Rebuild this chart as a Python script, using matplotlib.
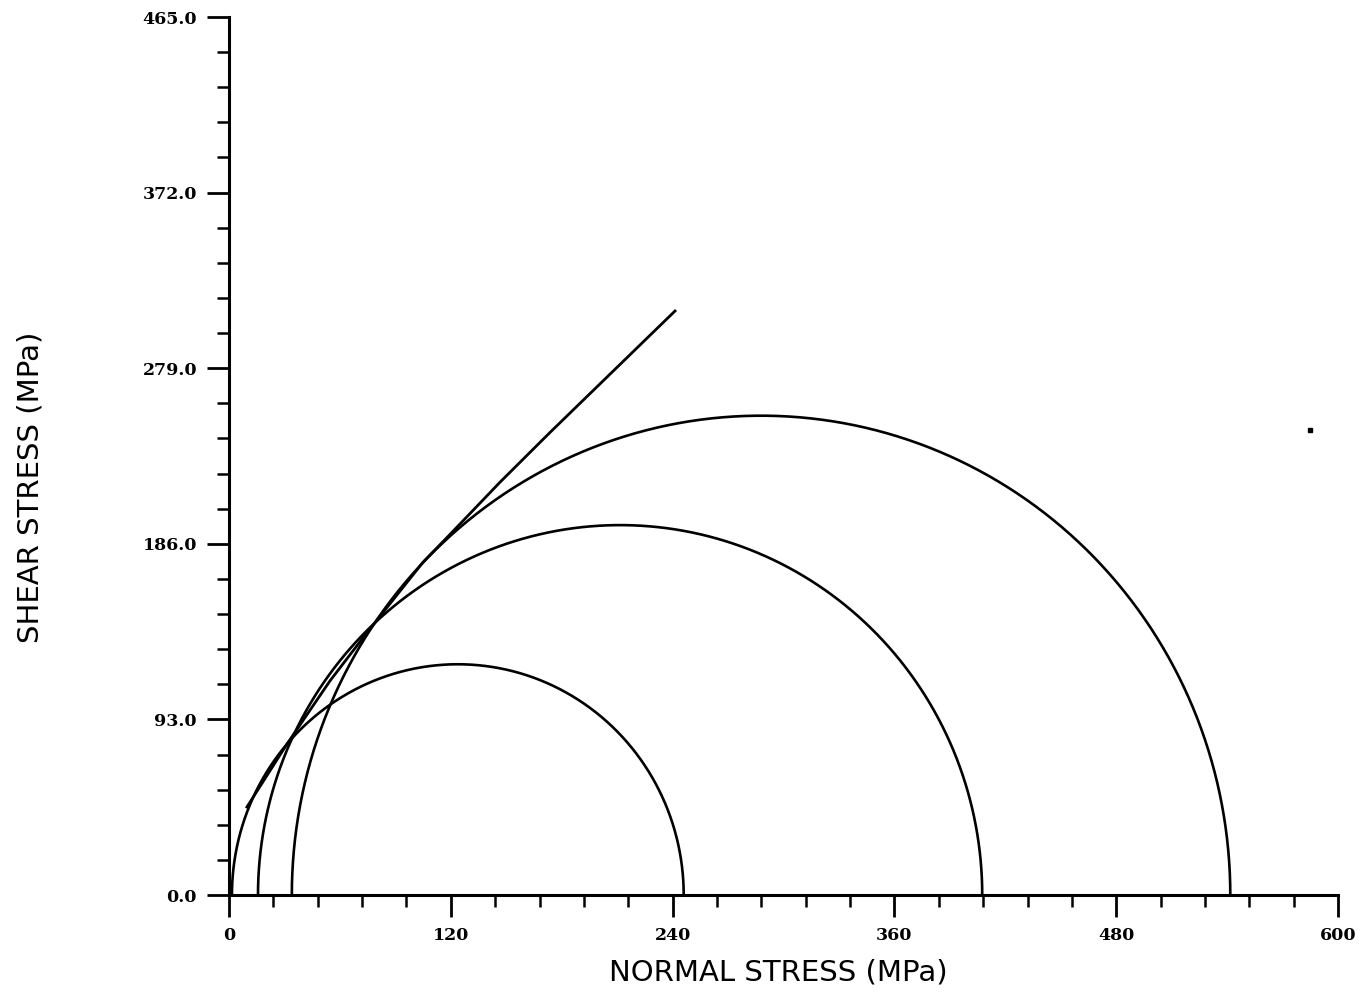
import numpy as np
import matplotlib
matplotlib.use("Agg")
import matplotlib.pyplot as plt
from matplotlib.ticker import MultipleLocator, FormatStrFormatter

# principal stresses of each test (MPa)
sigma3 = [1.6, 15.7, 34.0]
sigma1 = [246.0, 407.5, 541.7]

# failure envelope (normal, shear) in MPa
env_sigma = [9.7, 31.4, 54.7, 74.7, 105.0, 119.6, 146.6, 173.7, 241.3]
env_tau = [46.6, 80.0, 113.5, 139.0, 176.3, 191.0, 218.6, 245.0, 309.3]

# isolated plotted point
dot_sigma = [585.0]
dot_tau = [246.3]

fig = plt.figure(figsize=(13.63, 10), dpi=100)
ax = fig.add_axes([0.168, 0.105, 0.8137, 0.878])

theta = np.linspace(0, np.pi, 400)
for s3, s1 in zip(sigma3, sigma1):
    c = (s1 + s3) / 2
    r = (s1 - s3) / 2
    ax.plot(c + r * np.cos(theta), r * np.sin(theta), color='black', lw=1.9,
            solid_capstyle='butt')

ax.plot(env_sigma, env_tau, color='black', lw=2.0)
ax.plot(dot_sigma, dot_tau, 's', color='black', ms=2.2)

ax.set_xlim(0, 600)
ax.set_ylim(0, 465)

for side in ['top', 'right']:
    ax.spines[side].set_visible(False)
for side in ['left', 'bottom']:
    ax.spines[side].set_linewidth(2.2)

ax.xaxis.set_major_locator(MultipleLocator(120))
ax.xaxis.set_minor_locator(MultipleLocator(24))
ax.yaxis.set_major_locator(MultipleLocator(93))
ax.yaxis.set_minor_locator(MultipleLocator(18.6))
ax.yaxis.set_major_formatter(FormatStrFormatter('%.1f'))

ax.tick_params(which='major', direction='out', length=16, width=2.0, pad=7)
ax.tick_params(which='minor', direction='out', length=8.5, width=1.8)
for lab in ax.get_xticklabels() + ax.get_yticklabels():
    lab.set_fontfamily('DejaVu Serif')
    lab.set_fontweight('bold')
    lab.set_fontsize(12.5)

ax.set_xlabel('NORMAL STRESS (MPa)', fontfamily='DejaVu Sans', fontsize=21,
              va='center')
ax.set_ylabel('SHEAR STRESS (MPa)', fontfamily='DejaVu Sans', fontsize=21,
              va='center')
ax.xaxis.set_label_coords(0.495, -0.0877)
ax.yaxis.set_label_coords(-0.1794, 0.4647)

fig.savefig('out.png', dpi=100)
